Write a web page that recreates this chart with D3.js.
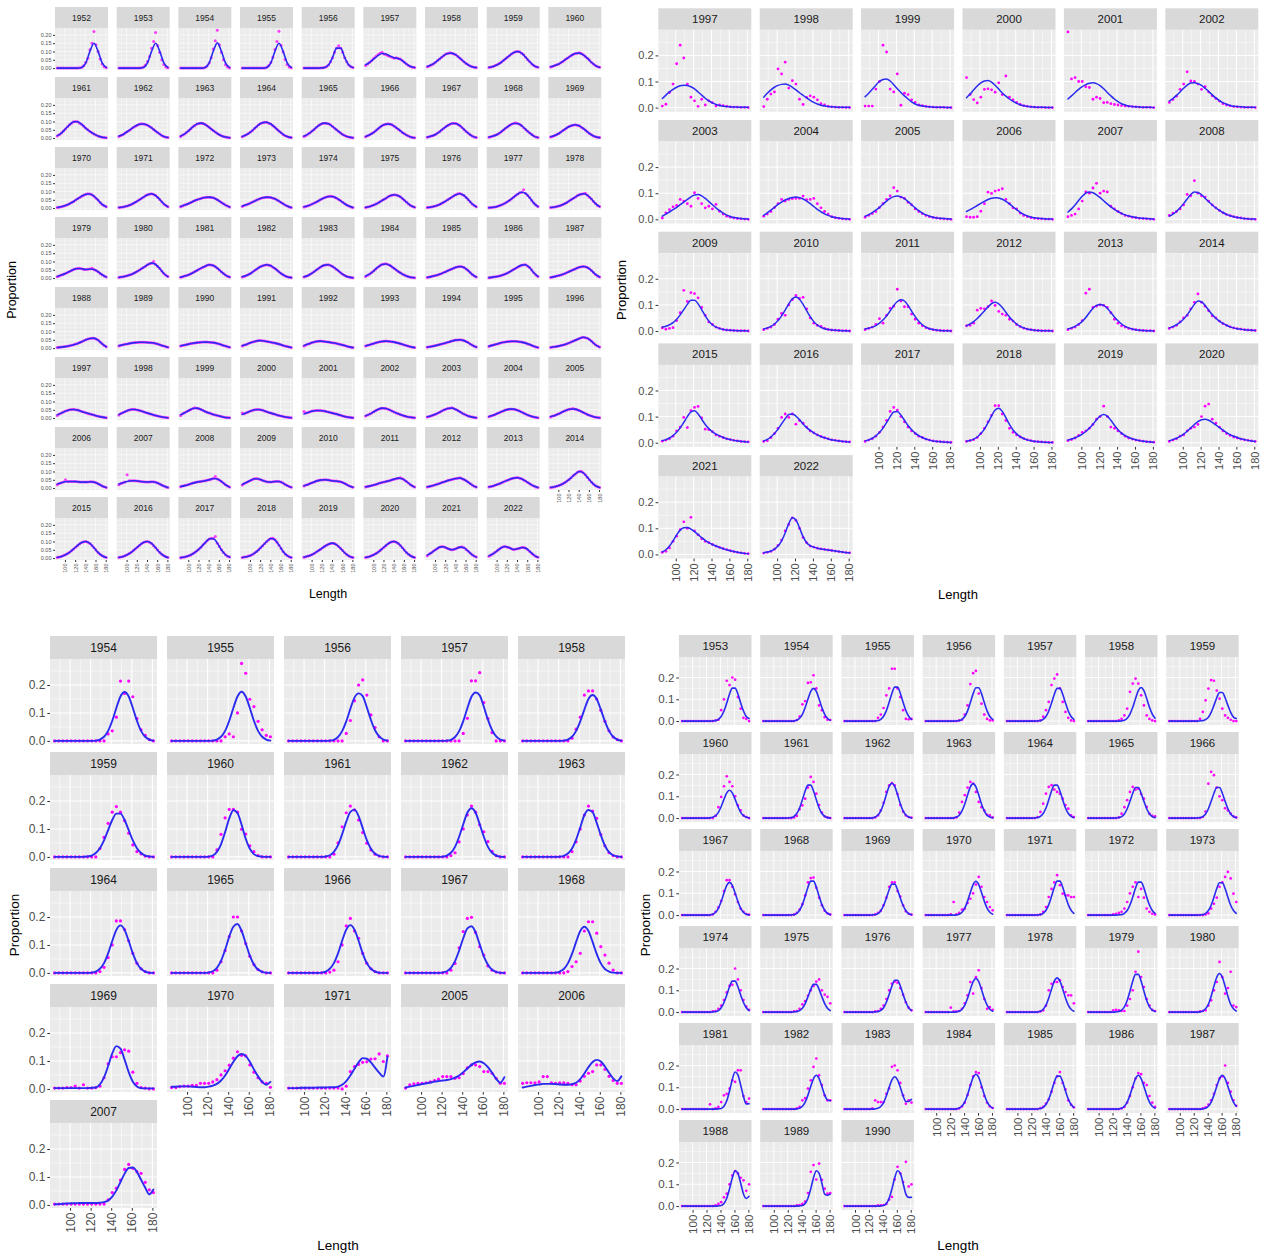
<!DOCTYPE html>
<html>
<head>
<meta charset="utf-8">
<script src="https://cdn.jsdelivr.net/npm/d3@7"></script>
<style>
  body { margin: 0; background: #ffffff; }
  svg { display: block; }
  text { font-family: "Liberation Sans", Arial, Helvetica, sans-serif; }
</style>
</head>
<body>
<svg id="chart" width="1264" height="1256"></svg>
<script>
// ---- Length bins (cm) used by the observed proportions and the fitted curves ----
const lengthBins = [85,89,93,97,101,105,109,113,117,121,125,129,133,137,141,145,149,153,157,161,165,169,173,177,181];
const coarseBins = [85,93,101,109,117,125,133,141,149,157,165,173,181];
const xTickValues = [100,120,140,160,180];
const xMinorValues = [90,110,130,150,170];

// All proportions below are stored in thousandths (0.175 -> 175).

// ---- Panel A: every year 1952-2022 (small multiples) ----
const yearsA = [1952,1953,1954,1955,1956,1957,1958,1959,1960,1961,1962,1963,1964,1965,1966,1967,1968,1969,1970,1971,1972,1973,1974,1975,1976,1977,1978,1979,1980,1981,1982,1983,1984,1985,1986,1987,1988,1989,1990,1991,1992,1993,1994,1995,1996,1997,1998,1999,2000,2001,2002,2003,2004,2005,2006,2007,2008,2009,2010,2011,2012,2013,2014,2015,2016,2017,2018,2019,2020,2021,2022];
const fitA = [
[0,0,0,0,0,0,4,31,101,150,101,31,4],
[0,0,0,0,0,0,4,31,101,150,101,31,4],
[0,0,0,0,0,0,4,31,101,152,101,31,4],
[0,0,0,0,0,0,4,31,101,150,101,31,4],
[0,0,0,0,1,3,18,63,120,120,63,18,3],
[20,35,55,75,88,85,72,62,58,45,25,10,3],
[10,20,35,55,75,88,90,80,60,38,20,8,3],
[5,10,20,35,55,75,92,100,90,65,38,15,5],
[8,15,25,40,58,75,88,90,80,60,35,15,5],
[15,30,55,80,98,98,82,60,40,25,12,5,2],
[12,22,38,55,72,83,85,78,62,42,24,10,3],
[12,25,45,68,85,90,82,65,45,28,14,6,2],
[10,20,36,58,80,93,95,85,65,42,22,9,3],
[12,24,42,64,82,90,86,70,50,30,15,6,2],
[10,20,35,55,74,84,84,72,54,34,18,7,2],
[6,12,22,38,58,76,88,88,75,52,30,12,4],
[6,12,22,38,58,76,88,88,75,52,30,12,4],
[8,15,28,45,62,75,80,74,58,38,20,8,3],
[4,8,15,26,40,56,72,83,85,72,48,22,8],
[4,7,13,22,35,50,66,80,86,76,52,25,8],
[10,18,28,40,50,58,64,66,62,50,34,18,7],
[12,20,30,42,54,62,66,64,56,42,26,12,4],
[8,14,24,36,50,62,70,70,60,44,26,12,4],
[5,10,18,30,45,60,74,80,75,58,36,16,5],
[4,7,13,22,35,50,66,80,86,76,52,25,8],
[3,5,10,18,30,46,65,84,95,88,62,30,9],
[4,7,12,21,34,50,66,80,86,78,55,27,9],
[10,18,28,40,52,58,56,52,55,52,38,20,7],
[5,8,14,22,34,48,64,80,90,82,58,28,9],
[6,12,20,32,46,60,72,80,76,60,38,18,6],
[8,15,28,45,62,75,80,74,58,38,20,8,3],
[8,16,30,48,66,78,80,70,52,32,16,6,2],
[12,25,44,66,82,85,76,58,40,24,12,5,2],
[5,9,15,23,33,44,55,65,70,64,46,22,7],
[3,6,10,16,25,37,51,66,78,80,62,32,10],
[5,9,15,23,33,44,55,65,70,64,46,22,7],
[4,6,9,14,20,28,38,50,58,60,48,26,8],
[15,20,25,30,33,35,35,34,32,28,20,12,5],
[14,19,24,29,33,35,36,35,33,28,20,12,5],
[15,22,32,40,45,44,40,35,30,24,16,9,4],
[16,24,33,40,42,40,36,32,28,22,15,8,3],
[14,20,28,35,40,42,40,36,30,23,15,8,3],
[6,10,15,21,28,35,42,48,50,45,33,18,6],
[12,18,25,32,37,40,41,40,36,30,21,11,4],
[5,8,12,18,26,36,47,58,65,60,42,20,6],
[20,30,42,50,52,48,40,32,25,18,11,6,2],
[22,33,44,52,52,46,38,30,23,16,10,5,2],
[20,32,46,58,60,52,40,30,22,15,9,4,2],
[22,32,42,50,52,47,38,30,23,16,10,5,2],
[25,34,42,46,46,42,36,30,24,17,10,5,2],
[14,24,38,52,60,58,48,36,26,17,10,5,2],
[8,14,23,35,48,58,60,52,38,24,13,6,2],
[10,17,27,38,48,54,54,47,36,24,14,6,2],
[9,16,26,38,49,55,54,46,34,22,12,5,2],
[25,32,38,40,40,38,36,36,38,36,26,13,4],
[24,32,40,44,44,41,38,37,38,35,25,12,4],
[10,15,22,30,36,40,44,50,58,55,40,20,6],
[22,34,46,56,55,46,38,36,40,40,30,15,5],
[14,22,32,42,48,50,48,44,42,38,28,14,5],
[8,12,18,26,34,40,46,54,60,56,40,20,6],
[8,13,20,28,37,45,52,58,60,52,36,18,6],
[8,13,21,31,42,52,60,62,56,42,26,12,4],
[4,8,15,26,42,62,84,100,92,66,36,14,4],
[5,10,20,35,55,76,94,100,88,62,34,14,4],
[5,10,20,35,55,76,94,100,88,62,34,14,4],
[3,7,14,26,44,66,92,115,118,90,50,20,6],
[4,8,16,30,50,75,100,118,110,78,40,15,4],
[6,12,22,36,52,70,84,90,80,58,32,13,4],
[5,10,20,35,55,76,94,100,88,62,34,14,4],
[18,32,50,66,68,58,50,56,66,62,42,20,6],
[14,26,44,62,70,62,52,56,64,60,40,18,5]
];
const obsA = [
[0,0,0,0,0,0,0,0,0,0,0,2,5,15,35,60,110,150,220,140,100,55,25,8,2],
[0,0,0,0,0,0,0,0,0,0,0,2,6,18,40,70,120,160,215,135,95,50,22,7,2],
[0,0,0,0,0,0,0,0,0,0,0,1,4,12,30,62,115,165,228,140,95,50,20,6,1],
[0,0,0,0,0,0,0,0,0,0,0,1,5,15,33,65,112,160,222,138,98,52,22,7,2],
[0,0,0,0,0,0,0,0,1,2,3,8,18,38,63,95,120,135,120,95,63,38,18,8,3],
[15,25,35,45,60,70,80,90,95,85,80,75,70,65,60,62,58,55,45,35,25,15,10,5,3],
[8,12,18,25,35,45,55,65,75,85,88,92,90,85,80,70,60,48,38,28,20,12,8,5,3],
[4,6,10,15,20,28,35,45,55,65,75,85,92,98,100,98,90,80,65,50,38,25,15,8,5],
[6,10,15,20,25,32,40,50,58,67,75,82,88,90,92,88,80,70,60,48,35,25,15,8,5],
[12,20,30,42,55,68,80,90,98,100,98,90,82,72,60,50,40,32,25,18,12,8,5,3,2],
[10,15,22,30,38,46,55,64,72,78,83,86,85,82,78,70,62,52,42,33,24,16,10,5,3],
[10,18,25,35,45,56,68,76,85,88,90,88,82,75,65,55,45,36,28,20,14,9,6,3,2],
[8,14,20,28,36,46,58,68,80,88,93,96,95,90,85,75,65,54,42,32,22,14,9,5,3],
[10,16,24,32,42,52,64,74,82,88,90,90,86,80,70,60,50,40,30,22,15,10,6,3,2],
[8,14,20,28,35,45,55,65,74,80,84,86,84,80,72,63,54,44,34,26,18,12,7,4,2],
[5,8,12,16,22,30,38,48,58,68,76,82,88,90,88,82,75,64,52,40,30,20,12,7,4],
[5,8,12,17,22,29,38,47,58,67,76,84,88,92,88,83,75,63,52,41,30,21,12,7,4],
[6,10,15,21,28,36,45,54,62,70,75,78,80,78,74,66,58,48,38,28,20,13,8,5,3],
[3,5,8,11,15,20,26,33,40,48,56,64,72,78,83,86,85,80,72,60,48,34,22,14,8],
[3,5,7,10,13,17,22,28,35,42,50,58,66,74,80,84,86,82,76,64,52,38,25,15,8],
[8,12,18,23,28,34,40,46,50,55,58,62,64,66,66,64,62,56,50,42,34,26,18,12,7],
[10,15,20,25,30,36,42,48,54,58,62,64,66,66,64,60,56,49,42,34,26,19,12,7,4],
[6,10,14,19,24,30,36,43,50,56,62,67,70,72,70,66,60,52,44,35,26,19,12,7,4],
[4,7,10,14,18,24,30,38,45,53,60,68,74,78,80,79,75,68,58,47,36,25,16,9,5],
[3,5,7,10,13,17,22,28,35,42,50,58,66,74,80,86,88,82,76,64,52,38,25,15,8],
[2,4,5,7,10,14,18,24,30,38,46,55,65,75,84,92,95,110,88,76,62,45,30,18,9],
[3,5,7,9,12,16,21,27,34,42,50,58,66,74,80,84,86,90,78,66,55,40,27,16,9],
[8,12,18,23,28,34,40,46,52,56,58,60,56,52,52,54,55,60,52,46,38,28,20,12,7],
[4,6,8,11,14,18,22,28,34,41,48,56,64,72,80,86,90,100,82,70,58,42,28,17,9],
[5,8,12,16,20,26,32,39,46,53,60,66,72,77,80,79,76,68,60,49,38,27,18,11,6],
[6,10,15,21,28,36,45,54,62,70,75,78,80,78,74,66,58,48,38,28,20,13,8,5,3],
[6,11,16,23,30,39,48,57,66,73,78,81,80,76,70,61,52,42,32,23,16,10,6,3,2],
[10,17,25,34,44,55,66,75,82,85,86,82,76,67,58,49,40,32,24,18,12,8,5,3,2],
[4,7,9,12,15,19,23,28,33,38,44,50,55,60,65,68,70,68,64,55,46,34,22,13,7],
[2,4,6,8,10,13,16,20,25,31,37,44,51,58,66,72,78,80,80,72,62,48,32,19,10],
[4,6,9,12,15,19,23,28,33,39,44,50,55,61,65,68,70,69,64,56,46,34,22,13,7],
[3,5,6,8,9,11,14,17,20,24,28,33,38,44,50,55,58,60,60,55,48,37,26,15,8],
[12,17,20,23,25,28,30,32,33,34,35,35,35,35,34,33,32,30,28,24,20,16,12,8,5],
[12,16,19,22,24,27,29,31,33,34,35,36,36,36,35,34,33,31,28,24,20,16,12,8,5],
[12,18,22,27,32,36,40,43,45,45,44,42,40,38,35,32,30,27,24,20,16,12,9,6,4],
[13,19,24,28,33,37,40,41,42,41,40,38,36,34,32,30,28,25,22,18,15,11,8,5,3],
[12,17,20,24,28,32,35,38,40,41,42,41,40,38,36,33,30,26,23,19,15,11,8,5,3],
[5,8,10,12,15,18,21,24,28,31,35,38,42,45,48,49,50,48,45,39,33,25,18,11,6],
[10,15,18,22,25,28,32,35,37,39,40,41,41,41,40,38,36,33,30,25,21,16,11,7,4],
[4,6,8,10,12,15,18,22,26,31,36,42,47,52,58,62,65,63,60,51,42,30,20,12,6],
[16,25,30,36,42,46,50,52,54,50,48,44,40,36,32,28,25,21,18,14,11,8,6,4,2],
[18,27,33,38,44,48,52,54,52,49,46,42,38,34,30,26,23,19,16,13,10,7,5,3,2],
[16,26,32,40,46,52,58,62,60,56,52,46,40,35,30,26,22,18,15,12,9,6,4,3,2],
[30,26,32,37,42,46,50,52,52,50,47,42,38,34,30,26,23,19,16,13,10,7,5,3,2],
[40,30,34,38,42,44,46,46,46,44,42,39,36,33,30,27,24,20,17,13,10,7,5,3,2],
[12,18,24,31,38,45,52,57,60,60,58,54,48,42,36,31,26,21,17,13,10,7,5,3,2],
[6,10,14,18,23,29,35,42,48,54,58,60,62,58,52,45,38,31,24,18,13,9,6,3,2],
[8,13,17,22,27,32,38,43,48,52,54,55,54,51,47,42,36,30,24,19,14,10,6,4,2],
[7,12,16,21,26,32,38,44,49,53,55,58,54,50,46,40,34,28,22,17,12,8,5,3,2],
[20,28,32,36,50,40,40,40,40,39,38,37,36,36,36,37,38,38,36,32,26,20,13,8,4],
[20,28,32,36,80,44,44,44,44,43,41,40,38,37,37,37,38,38,35,31,25,19,12,7,4],
[8,12,15,18,22,26,30,33,36,38,40,42,44,47,50,54,58,70,55,48,40,30,20,12,6],
[18,28,34,40,46,52,56,58,55,50,46,42,38,36,36,38,40,41,40,36,30,22,15,9,5],
[12,18,22,27,32,37,42,45,48,49,50,50,48,46,44,43,42,40,38,34,28,21,14,9,5],
[6,10,12,15,18,22,26,30,34,37,40,43,46,50,54,57,60,62,56,48,40,30,20,12,6],
[6,10,13,16,20,24,28,33,37,41,45,48,52,55,58,60,62,57,52,44,36,27,18,11,6],
[6,10,13,17,21,26,31,36,42,47,52,56,60,62,64,60,56,49,42,34,26,18,12,7,4],
[3,5,8,11,15,20,26,34,42,52,62,74,84,94,100,102,92,80,66,50,36,24,14,8,4],
[4,7,10,15,20,27,35,45,55,66,76,86,94,98,100,96,88,76,62,48,34,23,14,8,4],
[4,7,10,14,20,27,35,45,55,66,76,86,94,99,100,95,88,75,62,48,34,23,14,8,4],
[2,5,7,10,14,19,26,35,44,55,66,80,92,105,115,120,118,130,90,70,50,33,20,11,6],
[3,6,8,12,16,22,30,40,50,62,75,88,100,110,118,120,110,96,78,58,40,25,15,8,4],
[5,8,12,16,22,28,36,44,52,61,70,78,84,88,90,88,80,70,58,45,32,21,13,7,4],
[4,7,10,15,20,27,35,45,55,66,76,86,94,98,100,96,88,76,62,48,34,23,14,8,4],
[14,24,32,42,50,58,66,70,68,63,58,54,50,52,56,62,66,68,62,52,42,30,20,12,6],
[11,19,26,35,44,53,62,68,70,66,62,57,52,53,56,60,64,65,60,50,40,28,18,10,5]
];

// ---- Panel B: 1997-2022 ----
const yearsB = [1997,1998,1999,2000,2001,2002,2003,2004,2005,2006,2007,2008,2009,2010,2011,2012,2013,2014,2015,2016,2017,2018,2019,2020,2021,2022];
const fitB = [
[35,48,60,70,78,84,86,85,80,72,60,48,36,26,18,12,8,5,4,3,2,2,1,1,1],
[40,55,68,78,85,89,90,86,78,68,57,47,37,28,20,14,9,6,4,3,2,1,1,1,1],
[42,55,70,86,100,108,110,102,88,72,58,45,33,22,14,9,6,4,3,2,1,1,1,0,0],
[38,52,68,83,95,102,104,98,86,71,56,44,33,24,16,11,7,5,3,2,1,1,1,0,0],
[33,45,58,70,80,88,93,95,92,84,72,58,45,33,23,15,10,6,4,3,2,1,1,1,0],
[25,35,47,60,74,86,94,95,92,85,74,62,49,37,27,19,13,8,5,4,3,2,1,1,1],
[12,20,28,37,46,56,66,76,86,93,95,90,80,68,56,44,33,24,16,11,7,5,3,2,1],
[15,25,35,46,57,66,74,80,84,85,83,78,70,60,49,38,29,21,15,10,7,5,3,2,1],
[12,18,26,35,46,58,70,80,87,89,86,79,68,56,44,33,24,17,12,8,5,4,3,2,1],
[30,37,45,53,61,69,76,81,83,82,77,69,59,48,37,27,19,13,9,6,4,3,2,1,1],
[28,40,55,72,88,100,105,102,94,83,71,59,48,38,30,23,17,13,10,7,5,4,3,2,1],
[12,20,30,44,60,78,95,105,103,94,81,67,55,44,34,26,19,14,10,7,5,3,2,1,1],
[15,18,24,32,45,62,82,102,118,118,104,82,58,38,24,15,10,6,4,3,2,1,1,1,0],
[8,12,18,27,40,58,80,104,123,130,122,102,78,55,36,23,14,9,6,4,3,2,1,1,0],
[8,11,15,21,30,42,58,77,97,113,120,115,98,76,55,37,24,15,9,6,4,2,1,1,0],
[20,27,36,48,62,77,92,105,110,104,90,72,54,39,27,18,12,8,5,3,2,1,1,1,0],
[8,12,18,26,37,52,70,87,98,102,98,87,71,54,39,27,18,12,8,5,3,2,1,1,0],
[12,17,24,33,46,62,82,102,115,112,98,80,63,49,38,29,22,16,12,9,7,5,4,3,2],
[8,12,18,27,40,57,78,100,118,122,110,90,70,54,42,33,26,20,15,12,9,7,5,4,3],
[7,13,22,35,52,72,92,108,110,102,88,72,58,47,38,30,24,19,15,11,9,7,5,4,3],
[7,11,17,26,39,56,77,100,118,120,106,86,66,50,37,27,20,14,10,7,5,4,3,2,1],
[6,9,14,22,35,52,76,103,125,132,120,96,70,49,34,23,16,11,8,5,4,3,2,1,1],
[10,14,19,25,33,43,56,71,88,102,108,102,86,67,50,37,27,20,15,11,8,6,4,3,2],
[8,12,17,24,33,44,57,70,81,88,90,86,78,68,58,48,39,31,25,20,15,12,9,7,5],
[10,18,32,52,75,93,102,103,97,87,76,64,54,45,38,32,27,22,18,14,11,8,6,4,3],
[6,9,13,20,32,52,82,118,140,132,102,68,45,34,28,24,21,19,17,15,13,11,9,7,6]
];
const obsB = [
[6,13,58,90,168,239,190,90,40,26,5,32,10,26,19,6,10,8,5,3,2,2,1,1,0],
[4,32,52,60,148,129,174,75,103,90,32,12,39,45,40,30,15,10,5,3,2,1,1,0,0],
[6,6,6,71,100,239,213,71,60,129,9,55,50,30,20,10,8,5,3,2,1,1,1,0,0],
[115,50,31,18,40,70,72,68,59,95,50,121,40,30,20,12,8,5,3,2,1,1,0,0,0],
[290,110,115,100,100,80,77,32,40,35,19,20,15,12,10,8,6,5,4,3,2,1,1,1,0],
[20,31,44,70,90,137,102,100,90,70,80,60,45,35,25,15,10,7,4,3,2,1,1,1,0],
[5,25,37,48,53,76,70,60,50,102,80,60,44,50,40,57,31,20,12,8,5,3,2,1,0],
[12,20,30,45,60,76,70,76,79,80,80,89,75,76,80,60,44,30,20,10,6,4,2,1,0],
[8,15,22,30,45,60,76,90,121,108,85,80,65,55,40,30,22,15,10,7,5,3,2,1,0],
[10,8,8,10,31,60,104,99,108,112,117,76,60,44,40,24,15,10,6,4,3,2,1,1,0],
[10,15,20,40,70,105,100,120,138,100,108,105,50,40,30,22,15,12,8,6,4,3,2,1,0],
[15,24,30,40,55,95,90,148,100,90,85,70,55,44,34,25,18,14,10,7,5,3,2,1,0],
[12,7,10,13,40,70,156,113,147,143,127,90,60,35,25,15,10,6,4,3,2,1,1,1,0],
[5,10,15,25,45,67,60,100,120,136,125,129,85,50,30,22,18,10,6,4,3,2,1,1,0],
[5,10,15,25,47,30,60,87,95,160,115,93,93,65,45,30,20,13,8,5,3,2,1,1,0],
[20,22,30,80,87,85,93,115,98,75,65,60,45,38,25,17,11,7,5,3,2,1,1,1,0],
[5,10,15,25,40,145,160,90,95,100,98,90,70,45,30,20,15,10,7,5,3,2,1,1,0],
[10,15,22,35,50,60,85,110,142,110,95,78,58,50,38,28,22,16,12,9,7,5,4,3,2],
[6,10,15,25,45,60,97,58,123,135,139,95,52,50,42,30,25,20,15,12,9,7,5,4,3],
[5,8,20,35,55,97,110,97,110,71,85,75,60,45,38,30,24,19,15,11,9,7,5,4,3],
[5,10,15,25,40,60,85,120,135,125,100,80,60,45,35,25,20,14,10,7,5,4,3,2,1],
[5,8,12,20,35,55,80,105,142,142,110,85,55,40,30,22,16,11,8,5,4,3,2,1,1],
[8,12,18,28,40,45,55,70,90,100,140,100,60,55,45,35,25,18,14,10,8,6,4,3,2],
[5,10,15,25,30,45,55,60,70,100,140,148,90,75,60,45,35,28,22,18,14,11,9,7,5],
[8,12,25,50,70,95,125,100,142,90,75,60,50,45,38,32,27,22,18,14,11,8,6,4,3],
[5,8,12,20,35,55,90,115,140,130,100,65,45,32,28,24,21,19,17,15,13,11,9,7,6]
];

// ---- Panel C: 1954-1971 and 2005-2007 ----
const yearsC = [1954,1955,1956,1957,1958,1959,1960,1961,1962,1963,1964,1965,1966,1967,1968,1969,1970,1971,2005,2006,2007];
const fitC = [
[0,0,0,0,0,0,0,0,0,0,1,5,15,36,72,118,159,175,159,118,72,36,15,5,1],
[0,0,0,0,0,0,0,0,0,0,1,5,15,36,72,118,159,176,159,118,72,36,15,5,1],
[0,0,0,0,0,0,0,0,0,0,1,4,14,35,70,115,155,170,160,120,75,38,16,5,1],
[0,0,0,0,0,0,0,0,0,0,1,4,14,35,71,117,158,173,163,122,76,39,16,5,1],
[0,0,0,0,0,0,0,0,0,0,1,5,15,36,70,112,150,164,150,112,70,36,15,5,1],
[0,0,0,0,0,0,0,0,2,5,14,31,59,96,132,155,155,132,96,59,31,14,5,2,0],
[0,0,0,0,0,0,0,0,0,1,5,18,45,89,138,167,157,115,65,29,10,3,1,0,0],
[0,0,0,0,0,0,0,0,0,2,6,18,42,81,126,161,169,146,103,60,29,11,4,1,0],
[0,0,0,0,0,0,0,0,0,1,5,15,36,72,117,158,174,158,117,72,36,15,5,1,0],
[0,0,0,0,0,0,0,0,0,1,4,12,30,62,105,150,168,160,122,78,40,17,6,2,0],
[0,0,0,0,0,0,0,0,0,1,5,15,35,70,114,154,170,154,114,70,35,15,5,1,0],
[0,0,0,0,0,0,0,0,0,2,6,18,43,83,130,165,175,150,106,62,30,12,4,1,0],
[0,0,0,0,0,0,0,0,1,5,15,35,70,115,155,171,155,115,70,35,15,5,1,0,0],
[0,0,0,0,0,0,0,0,0,2,6,18,42,80,124,159,167,145,102,59,29,11,4,1,0],
[0,0,0,0,0,0,0,0,1,5,14,34,68,111,150,165,150,111,68,34,14,5,1,0,0],
[3,3,3,3,3,3,3,3,3,4,5,16,41,82,127,153,144,105,60,26,9,3,2,2,2],
[8,8,9,9,9,8,7,6,6,8,12,18,30,48,72,97,117,125,118,97,70,45,25,15,25],
[3,3,3,4,4,4,4,5,5,5,6,6,8,15,28,48,72,95,110,108,95,76,58,44,115],
[5,8,11,14,17,20,23,26,28,30,32,35,40,48,60,73,86,95,98,92,78,58,36,22,42],
[5,8,11,14,16,18,18,18,17,16,15,15,17,22,35,55,78,96,104,98,80,58,38,28,45],
[2,3,4,5,6,6,7,7,7,7,7,8,10,16,30,52,82,112,132,134,118,90,62,38,55]
];
const obsC = [
[0,0,0,0,0,0,0,0,0,0,0,0,0,25,36,85,214,170,214,158,80,40,20,5,0],
[0,0,0,0,0,0,0,0,0,0,0,0,0,15,25,15,100,277,242,149,123,70,40,20,15],
[0,0,0,0,0,0,0,0,0,0,0,0,0,0,27,73,144,200,218,164,93,48,15,0,0],
[0,0,0,0,0,0,0,0,0,0,0,0,0,0,27,81,215,215,244,137,80,30,0,0,0],
[0,0,0,0,0,0,0,0,0,0,0,0,10,42,85,164,179,179,150,110,70,36,14,5,0],
[0,0,0,0,0,0,0,0,0,0,0,30,70,120,160,180,160,130,85,43,19,11,3,0,0],
[0,0,0,0,0,0,0,0,0,0,0,25,81,140,170,170,160,99,82,40,19,5,0,0,0],
[0,0,0,0,0,0,0,0,0,0,0,10,50,108,158,182,168,132,87,49,25,10,3,0,0],
[0,0,0,0,0,0,0,0,0,0,0,5,15,54,100,150,182,160,115,90,55,20,5,0,0],
[0,0,0,0,0,0,0,0,0,0,0,0,19,54,100,150,182,164,138,80,40,15,5,0,0],
[0,0,0,0,0,0,0,0,0,0,0,5,20,55,100,186,186,155,115,70,35,15,5,0,0],
[0,0,0,0,0,0,0,0,0,0,0,10,40,80,130,200,200,150,105,60,30,12,4,0,0],
[0,0,0,0,0,0,0,0,0,0,3,10,40,100,168,195,150,124,70,35,15,5,0,0,0],
[0,0,0,0,0,0,0,0,0,0,0,10,34,90,148,195,199,145,94,64,25,10,3,0,0],
[0,0,0,0,0,0,0,0,0,0,0,5,23,40,70,150,183,183,142,94,64,35,10,0,0],
[3,3,3,5,5,10,3,15,3,3,5,10,40,90,115,115,130,140,135,60,20,5,3,0,0],
[5,5,8,10,10,13,13,20,20,20,25,33,50,65,85,110,133,120,118,86,60,40,25,20,6],
[3,3,3,3,3,3,3,3,3,3,3,3,3,0,10,62,80,88,95,97,107,108,125,98,118],
[3,15,18,20,20,22,25,30,35,44,44,44,38,40,55,75,86,86,80,62,62,56,38,20,20],
[20,22,22,22,25,44,44,22,20,22,22,20,15,15,28,45,56,62,86,86,70,45,30,20,20],
[3,3,3,3,3,3,3,3,3,3,3,3,3,18,44,60,89,127,145,131,119,113,81,54,44]
];

// ---- Panel D: 1953-1990 ----
const yearsD = [1953,1954,1955,1956,1957,1958,1959,1960,1961,1962,1963,1964,1965,1966,1967,1968,1969,1970,1971,1972,1973,1974,1975,1976,1977,1978,1979,1980,1981,1982,1983,1984,1985,1986,1987,1988,1989,1990];
const fitD = [
[0,0,0,0,0,0,0,0,0,0,0,1,2,8,21,46,83,124,151,151,124,83,46,21,12],
[0,0,0,0,0,0,0,0,0,0,0,1,4,13,31,62,101,136,150,136,101,62,31,13,4],
[0,0,0,0,0,0,0,0,0,0,0,1,2,8,22,48,86,128,156,156,128,86,48,22,8],
[0,0,0,0,0,0,0,0,0,0,0,1,2,8,21,47,85,126,153,153,126,85,47,21,8],
[0,0,0,0,0,0,0,0,0,0,0,1,2,8,21,46,83,123,150,150,123,83,46,21,8],
[0,0,0,0,0,0,0,0,0,0,0,0,1,4,13,32,63,104,140,154,140,104,63,32,13],
[0,0,0,0,0,0,0,0,0,0,0,1,2,7,18,40,72,107,131,131,107,72,40,18,12],
[0,0,0,0,0,0,0,0,0,0,1,4,11,26,53,86,116,128,116,86,53,26,11,4,1],
[0,0,0,0,0,0,0,0,0,1,2,8,21,46,84,124,151,151,124,84,46,21,8,2,1],
[0,0,0,0,0,0,0,0,0,0,1,5,14,33,66,108,145,160,145,108,66,33,14,5,1],
[0,0,0,0,0,0,0,0,0,0,1,5,13,33,65,106,143,158,143,106,65,33,13,5,1],
[0,0,0,0,0,0,0,0,0,0,1,2,8,21,46,84,124,151,151,124,84,46,21,8,2],
[0,0,0,0,0,0,0,0,0,0,1,2,7,19,43,77,114,140,140,114,77,43,19,7,2],
[0,0,0,0,0,0,0,0,0,0,1,2,7,19,43,77,114,140,140,114,77,43,19,7,2],
[0,0,0,0,0,0,0,0,0,0,1,4,13,31,62,101,136,150,136,101,62,31,13,4,1],
[0,0,0,0,0,0,0,0,0,0,1,2,8,22,48,86,128,156,156,128,86,48,22,8,2],
[0,0,0,0,0,0,0,0,0,0,1,2,7,20,44,78,116,142,142,116,78,44,20,7,2],
[0,0,0,0,0,0,0,0,0,0,0,1,4,13,32,64,104,140,155,140,104,64,32,13,4],
[0,0,0,0,0,0,0,0,0,0,0,1,2,8,22,48,86,128,156,156,128,86,48,22,8],
[0,0,0,0,0,0,0,0,0,0,0,1,2,8,21,46,83,124,151,151,124,83,46,21,8],
[0,0,0,0,0,0,0,0,0,0,0,1,2,8,21,45,82,122,148,148,122,82,45,21,8],
[0,0,0,0,0,0,0,0,0,0,0,1,2,7,20,44,78,116,142,142,116,78,44,20,7],
[0,0,0,0,0,0,0,0,0,0,0,1,2,7,18,39,70,104,127,127,104,70,39,18,7],
[0,0,0,0,0,0,0,0,0,0,0,1,2,8,20,45,81,120,146,146,120,81,45,20,8],
[0,0,0,0,0,0,0,0,0,0,0,1,4,13,32,63,104,140,154,140,104,63,32,13,4],
[0,0,0,0,0,0,0,0,0,0,0,1,4,13,32,65,106,142,157,142,106,65,32,13,4],
[0,0,0,0,0,0,0,0,0,0,1,3,9,24,53,96,142,173,173,142,96,53,24,9,3],
[0,0,0,0,0,0,0,0,0,0,0,1,5,15,36,73,119,160,177,160,119,73,36,15,5],
[0,0,0,0,0,0,0,0,0,0,0,0,0,1,3,13,38,83,136,170,157,110,58,23,25],
[0,0,0,0,0,0,0,0,0,0,0,0,1,4,13,32,64,104,140,155,140,104,64,42,38],
[0,0,0,0,0,0,0,0,0,0,0,1,4,12,30,61,100,134,148,134,100,61,35,35,45],
[0,0,0,0,0,0,0,0,0,0,0,1,5,14,33,66,108,145,160,145,108,66,33,14,5],
[0,0,0,0,0,0,0,0,0,0,0,1,2,8,21,46,83,124,151,151,124,83,46,21,8],
[0,0,0,0,0,0,0,0,0,0,0,1,4,13,32,64,104,140,155,140,104,64,32,13,4],
[0,0,0,0,0,0,0,0,0,0,0,0,1,4,13,32,64,104,140,155,140,104,64,32,13],
[0,0,0,0,0,0,0,0,0,0,0,0,0,1,3,12,36,79,130,162,150,105,55,35,45],
[0,0,0,0,0,0,0,0,0,0,0,0,0,1,3,12,36,79,130,162,150,105,55,50,55],
[0,0,0,0,0,0,0,0,0,0,0,0,0,1,3,12,36,79,130,162,150,105,55,40,40]
];
const obsD = [
[0,0,0,0,0,0,0,0,0,0,0,0,3,6,50,100,185,165,200,190,110,57,15,10,0],
[0,0,0,0,0,0,0,0,0,0,0,0,5,20,77,92,175,178,210,150,72,50,18,6,5],
[0,0,0,0,0,0,0,0,0,0,0,0,15,30,60,118,150,240,240,150,110,50,10,8,10],
[0,0,0,0,0,0,0,0,0,0,0,0,3,6,30,72,170,220,230,126,80,30,10,3,3],
[0,0,0,0,0,0,0,0,0,0,0,0,3,20,50,88,165,195,214,150,88,42,15,3,0],
[0,0,0,0,0,0,0,0,0,0,0,3,10,26,57,134,172,195,172,118,72,26,10,3,0],
[0,0,0,0,0,0,0,0,0,0,0,10,42,95,149,188,185,140,103,57,26,15,6,0,0],
[0,0,0,0,0,0,0,0,0,0,0,0,10,50,97,146,192,166,146,100,58,35,12,5,0],
[0,0,0,0,0,0,0,0,0,0,0,3,10,40,58,89,140,189,166,112,60,25,8,3,0],
[0,0,0,0,0,0,0,0,0,0,0,3,12,35,70,120,150,160,150,110,60,30,12,5,2],
[0,0,0,0,0,0,0,0,0,0,0,3,25,74,105,140,166,158,120,74,50,35,15,12,3],
[0,0,0,0,0,0,0,0,0,0,0,5,28,66,112,143,151,131,120,112,89,60,43,12,5],
[0,0,0,0,0,0,0,0,0,0,0,3,20,50,82,120,143,131,135,110,89,51,20,10,8],
[0,0,0,0,0,0,0,0,0,0,0,0,5,30,158,212,197,140,100,82,45,35,20,8,3],
[0,0,0,0,0,0,0,0,0,0,0,3,15,35,65,110,160,160,130,95,60,30,15,5,2],
[0,0,0,0,0,0,0,0,0,0,0,2,10,25,50,90,150,170,172,125,80,45,20,8,3],
[0,0,0,0,0,0,0,0,0,0,0,3,10,20,45,80,130,150,150,110,85,45,18,6,2],
[0,0,0,0,0,0,0,0,0,3,60,3,10,25,30,55,75,100,140,175,130,83,60,37,22],
[0,0,0,0,0,0,0,0,0,0,0,0,3,15,37,83,120,150,183,137,98,91,90,83,83],
[0,0,0,0,0,0,0,0,0,3,6,10,15,30,60,100,130,150,83,120,80,30,15,6,3],
[0,0,0,0,0,0,0,0,0,0,0,0,0,3,8,30,52,80,130,150,175,198,168,98,60],
[0,0,0,0,0,0,0,0,0,0,0,3,5,15,30,55,90,120,125,200,150,100,55,25,10],
[0,0,0,0,0,0,0,0,0,0,0,3,5,15,35,50,75,100,120,140,150,100,80,70,40],
[0,0,0,0,0,0,0,0,0,0,0,3,5,15,30,60,100,130,140,135,110,80,45,20,8],
[0,0,0,0,0,0,0,0,0,20,3,3,5,15,40,77,138,85,160,192,110,60,15,23,10],
[0,0,0,0,0,0,0,0,0,0,0,0,3,8,30,100,130,138,138,146,115,92,77,77,40],
[0,0,0,0,0,0,0,0,0,8,10,8,5,5,30,60,100,185,277,161,115,60,30,10,5],
[0,0,0,0,0,0,0,0,0,0,0,3,5,8,30,54,100,138,230,160,85,110,185,30,23],
[0,0,0,0,0,0,0,0,0,0,22,0,3,10,32,63,70,94,132,125,178,178,60,32,48],
[0,0,0,0,0,0,0,0,0,0,0,0,3,10,40,50,94,132,194,232,155,110,63,40,40],
[0,0,0,0,0,0,0,0,0,0,3,40,32,32,32,70,94,194,200,178,120,63,25,40,30],
[0,0,0,0,0,0,0,0,0,0,0,0,3,12,30,65,110,150,170,165,100,60,30,12,5],
[0,0,0,0,0,0,0,0,0,0,0,0,5,10,25,45,80,120,150,170,120,90,40,20,8],
[0,0,0,0,0,0,0,0,0,0,0,0,3,10,30,60,100,140,165,160,120,110,60,30,10],
[0,0,0,0,0,0,0,0,0,0,0,0,3,8,20,40,70,110,140,150,200,120,80,40,15],
[0,0,0,0,0,0,0,0,0,0,0,0,3,10,18,40,57,100,140,160,150,130,118,70,100],
[0,0,0,0,0,0,0,0,0,0,0,0,3,5,10,20,60,157,188,122,195,120,80,57,60],
[0,0,0,0,0,0,0,0,0,0,0,0,3,3,5,10,30,42,122,180,150,110,203,90,100]
];

// ---------------------------------------------------------------------------
const svg = d3.select("#chart");
const X_DOMAIN = [80.5, 184.5];
const OBS_COLOR = "#FF00FF";
const FIT_COLOR = "#2B2BF0";

// Geometry and styling of the four facet grids
const grids = [
  { years: yearsA, obs: obsA, fit: fitA, fitBins: coarseBins,
    x0: 55, y0: 7, cols: 9, dx: 61.67, dy: 70, pw: 53, sh: 21, ph: 42,
    yDomain: [-0.0115, 0.2415], yTicks: [0, 0.05, 0.1, 0.15, 0.2], yMinor: [0.025, 0.075, 0.125, 0.175, 0.225], yFmt: ".2f",
    stripFont: 8.5, tickFont: 5.5, tickLen: 2, tickPad: 1.5, r: 1.5, lw: 1.6, majorW: 0.6, minorW: 0.3,
    obsOpacity: 0.75,
    titleY: { x: 12, y: 290 }, titleX: { x: 328, y: 594 }, titleFont: 12.5 },
  { years: yearsB, obs: obsB, fit: fitB, fitBins: lengthBins,
    x0: 658.3, y0: 8.3, cols: 6, dx: 101.4, dy: 111.7, pw: 93, sh: 21.5, ph: 82,
    yDomain: [-0.016, 0.298], yTicks: [0, 0.1, 0.2], yMinor: [0.05, 0.15, 0.25], yFmt: ".1f",
    stripFont: 11.5, tickFont: 11, tickLen: 2.7, tickPad: 2, r: 1.4, lw: 1.5, majorW: 1, minorW: 0.5,
    obsOpacity: 1,
    titleY: { x: 621, y: 290 }, titleX: { x: 958, y: 594 }, titleFont: 13 },
  { years: yearsC, obs: obsC, fit: fitC, fitBins: lengthBins,
    x0: 50, y0: 636, cols: 5, dx: 117, dy: 116, pw: 107, sh: 23, ph: 85,
    yDomain: [-0.011, 0.293], yTicks: [0, 0.1, 0.2], yMinor: [0.05, 0.15, 0.25], yFmt: ".1f",
    stripFont: 12, tickFont: 12, tickLen: 2.7, tickPad: 2, r: 1.6, lw: 1.9, majorW: 1.1, minorW: 0.55,
    obsOpacity: 1,
    titleY: { x: 14, y: 925 }, titleX: { x: 338, y: 1245 }, titleFont: 13.5 },
  { years: yearsD, obs: obsD, fit: fitD, fitBins: lengthBins,
    x0: 679, y0: 635, cols: 7, dx: 81.2, dy: 97, pw: 72.5, sh: 22, ph: 68,
    yDomain: [-0.018, 0.294], yTicks: [0, 0.1, 0.2], yMinor: [0.05, 0.15, 0.25], yFmt: ".1f",
    stripFont: 11.5, tickFont: 11.5, tickLen: 2.7, tickPad: 2, r: 1.35, lw: 1.6, majorW: 0.9, minorW: 0.45,
    obsOpacity: 1,
    titleY: { x: 645, y: 925 }, titleX: { x: 958, y: 1245 }, titleFont: 13.5 }
];

function drawGrid(cfg) {
  const n = cfg.years.length;
  const x = d3.scaleLinear().domain(X_DOMAIN).range([0, cfg.pw]);
  const y = d3.scaleLinear().domain(cfg.yDomain).range([cfg.ph, 0]);
  const line = d3.line().x(d => x(d[0])).y(d => y(d[1])).curve(d3.curveMonotoneX);
  const root = svg.append("g");

  cfg.years.forEach((yr, k) => {
    const col = k % cfg.cols, row = Math.floor(k / cfg.cols);
    const f = root.append("g")
      .attr("transform", `translate(${cfg.x0 + col * cfg.dx},${cfg.y0 + row * cfg.dy})`);

    // facet strip
    f.append("rect").attr("width", cfg.pw).attr("height", cfg.sh).attr("fill", "#D9D9D9");
    f.append("text")
      .attr("x", cfg.pw / 2).attr("y", cfg.sh / 2).attr("dy", "0.36em")
      .attr("text-anchor", "middle").attr("font-size", cfg.stripFont).attr("fill", "#1A1A1A")
      .text(yr);

    const p = f.append("g").attr("transform", `translate(0,${cfg.sh})`);
    p.append("rect").attr("width", cfg.pw).attr("height", cfg.ph).attr("fill", "#EBEBEB");

    // grid lines
    const gridG = p.append("g").attr("stroke", "#FFFFFF");
    gridG.selectAll("line.xm").data(xMinorValues).join("line").attr("class", "xm")
      .attr("x1", d => x(d)).attr("x2", d => x(d)).attr("y1", 0).attr("y2", cfg.ph)
      .attr("stroke-width", cfg.minorW);
    gridG.selectAll("line.ym").data(cfg.yMinor).join("line").attr("class", "ym")
      .attr("x1", 0).attr("x2", cfg.pw).attr("y1", d => y(d)).attr("y2", d => y(d))
      .attr("stroke-width", cfg.minorW);
    gridG.selectAll("line.xM").data(xTickValues).join("line").attr("class", "xM")
      .attr("x1", d => x(d)).attr("x2", d => x(d)).attr("y1", 0).attr("y2", cfg.ph)
      .attr("stroke-width", cfg.majorW);
    gridG.selectAll("line.yM").data(cfg.yTicks).join("line").attr("class", "yM")
      .attr("x1", 0).attr("x2", cfg.pw).attr("y1", d => y(d)).attr("y2", d => y(d))
      .attr("stroke-width", cfg.majorW);

    // observed proportions
    const pts = cfg.obs[k].map((v, i) => [lengthBins[i], v / 1000]);
    p.append("g").attr("fill-opacity", cfg.obsOpacity)
      .selectAll("circle").data(pts).join("circle")
      .attr("cx", d => x(d[0])).attr("cy", d => y(d[1])).attr("r", cfg.r)
      .attr("fill", OBS_COLOR);

    // fitted curve
    const fitPts = cfg.fit[k].map((v, i) => [cfg.fitBins[i], v / 1000]);
    p.append("path").datum(fitPts)
      .attr("d", line).attr("fill", "none")
      .attr("stroke", FIT_COLOR).attr("stroke-width", cfg.lw)
      .attr("stroke-linejoin", "round").attr("stroke-linecap", "round");

    // y axis on the first column
    if (col === 0) {
      const ax = p.append("g")
        .call(d3.axisLeft(y).tickValues(cfg.yTicks).tickFormat(d3.format(cfg.yFmt))
          .tickSize(cfg.tickLen).tickPadding(cfg.tickPad));
      ax.attr("font-family", null).attr("font-size", cfg.tickFont);
      ax.select(".domain").remove();
      ax.selectAll("line").attr("stroke", "#333333");
      ax.selectAll("text").attr("fill", "#4D4D4D");
    }

    // x axis under the last facet of each column
    if (k + cfg.cols >= n) {
      const ax = p.append("g").attr("transform", `translate(0,${cfg.ph})`)
        .call(d3.axisBottom(x).tickValues(xTickValues).tickSize(cfg.tickLen).tickPadding(cfg.tickPad));
      ax.attr("font-family", null).attr("font-size", cfg.tickFont);
      ax.select(".domain").remove();
      ax.selectAll("line").attr("stroke", "#333333");
      ax.selectAll("text")
        .attr("fill", "#4D4D4D")
        .attr("transform", "rotate(-90)")
        .attr("text-anchor", "end")
        .attr("x", -(cfg.tickLen + cfg.tickPad))
        .attr("y", 0)
        .attr("dy", "0.35em");
    }
  });

  // axis titles
  svg.append("text")
    .attr("transform", `translate(${cfg.titleY.x},${cfg.titleY.y}) rotate(-90)`)
    .attr("dy", "0.35em").attr("text-anchor", "middle")
    .attr("font-size", cfg.titleFont).attr("fill", "#000000")
    .text("Proportion");
  svg.append("text")
    .attr("x", cfg.titleX.x).attr("y", cfg.titleX.y).attr("dy", "0.35em")
    .attr("text-anchor", "middle")
    .attr("font-size", cfg.titleFont).attr("fill", "#000000")
    .text("Length");
}

grids.forEach(drawGrid);
</script>
</body>
</html>
